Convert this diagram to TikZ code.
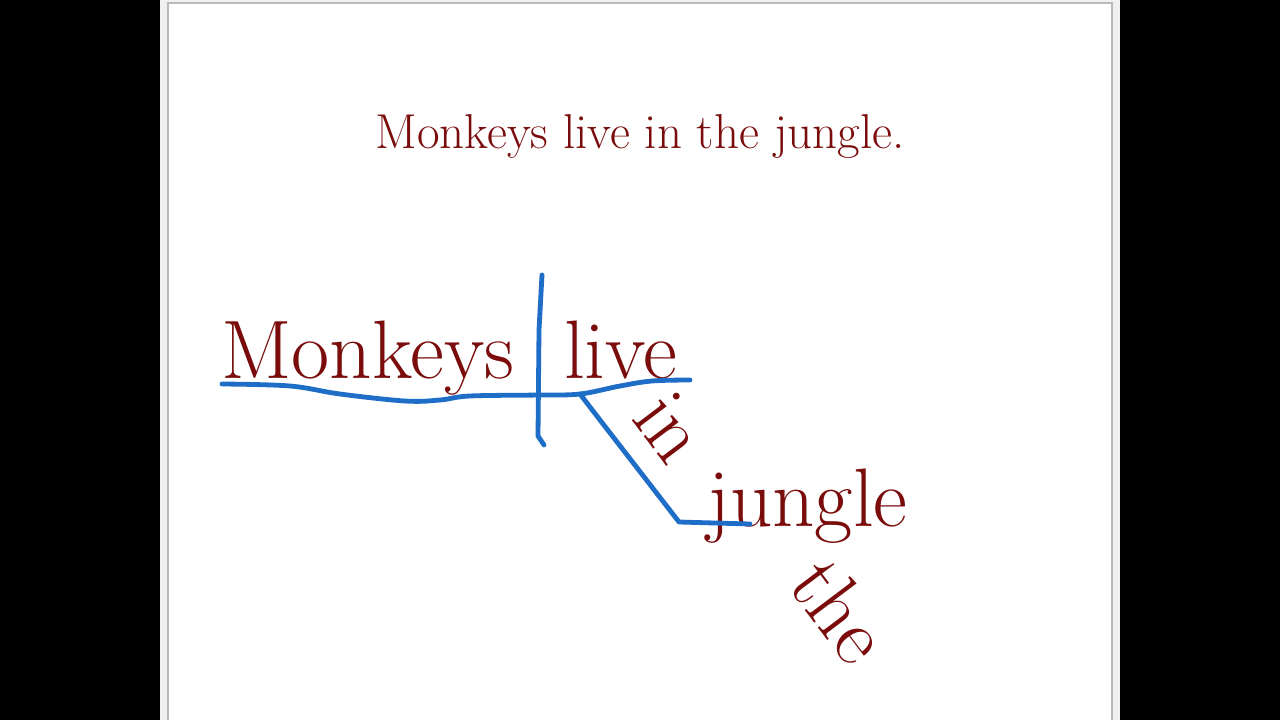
\documentclass[tikz,border=0pt]{standalone}
\usepackage{tikz}
\usetikzlibrary{positioning}
\usetikzlibrary{calc}

\definecolor{wordred}{HTML}{7A0C0C}
\definecolor{penblue}{HTML}{1E6EC8}

\tikzset{
  word/.style={text=wordred,inner sep=0pt,font=\fontsize{83}{90}\selectfont},
  pen/.style={draw=penblue,line width=4.8pt,line cap=round,line join=round},
}

\begin{document}
\begin{tikzpicture}[x=1pt,y=-1pt]
  % slide on black
  \fill[black] (0,0) rectangle (1280,720);
  \fill[gray!12] (160,0) rectangle (1120,720);
  \fill[white] (168,3) rectangle (1112,720);
  \draw[gray!55,line width=1.2pt] (168,720) -- (168,3) -- (1112,3) -- (1112,720);
  \useasboundingbox (0,0) rectangle (1280,720);

  % sentence
  \node[text=wordred,inner sep=0pt,font=\fontsize{49}{56}\selectfont,anchor=base]
    (sentence) at (640,148) {Monkeys live in the jungle.};

  % words on the diagram
  \node[word,anchor=base west] (subj) at (221,378) {Monkeys};
  \node[word,anchor=base west] (verb) at (564,378) {live};
  \node[word,anchor=base west,rotate=-53] (prep) at (630,418) {in};
  \node[word,anchor=base west] (obj) at (707,526) {jungle};
  \node[word,anchor=base west,rotate=-53] (art) at (786,585) {the};

  % pen strokes
  \coordinate (base_l) at (222,384);
  \coordinate (base_r) at (690,380);
  \coordinate (split_t) at (542,275);
  \coordinate (split_b) at (544,445);
  \coordinate (knee_t) at (580,394);
  \coordinate (knee_b) at (679,522);
  \coordinate (obj_r) at (750,524);

  \draw[pen] plot[smooth,tension=0.6] coordinates {(base_l) (290,386) (340,394)
    (405,401) (440,400) (470,396) (540,395) (knee_t) (620,386) (652,381) (base_r)};
  \draw[pen] (split_t) -- (539,330) -- (538,436) -- (split_b);
  \draw[pen] (knee_t) -- (600,420) -- (knee_b) -- (obj_r);
\end{tikzpicture}
\end{document}
